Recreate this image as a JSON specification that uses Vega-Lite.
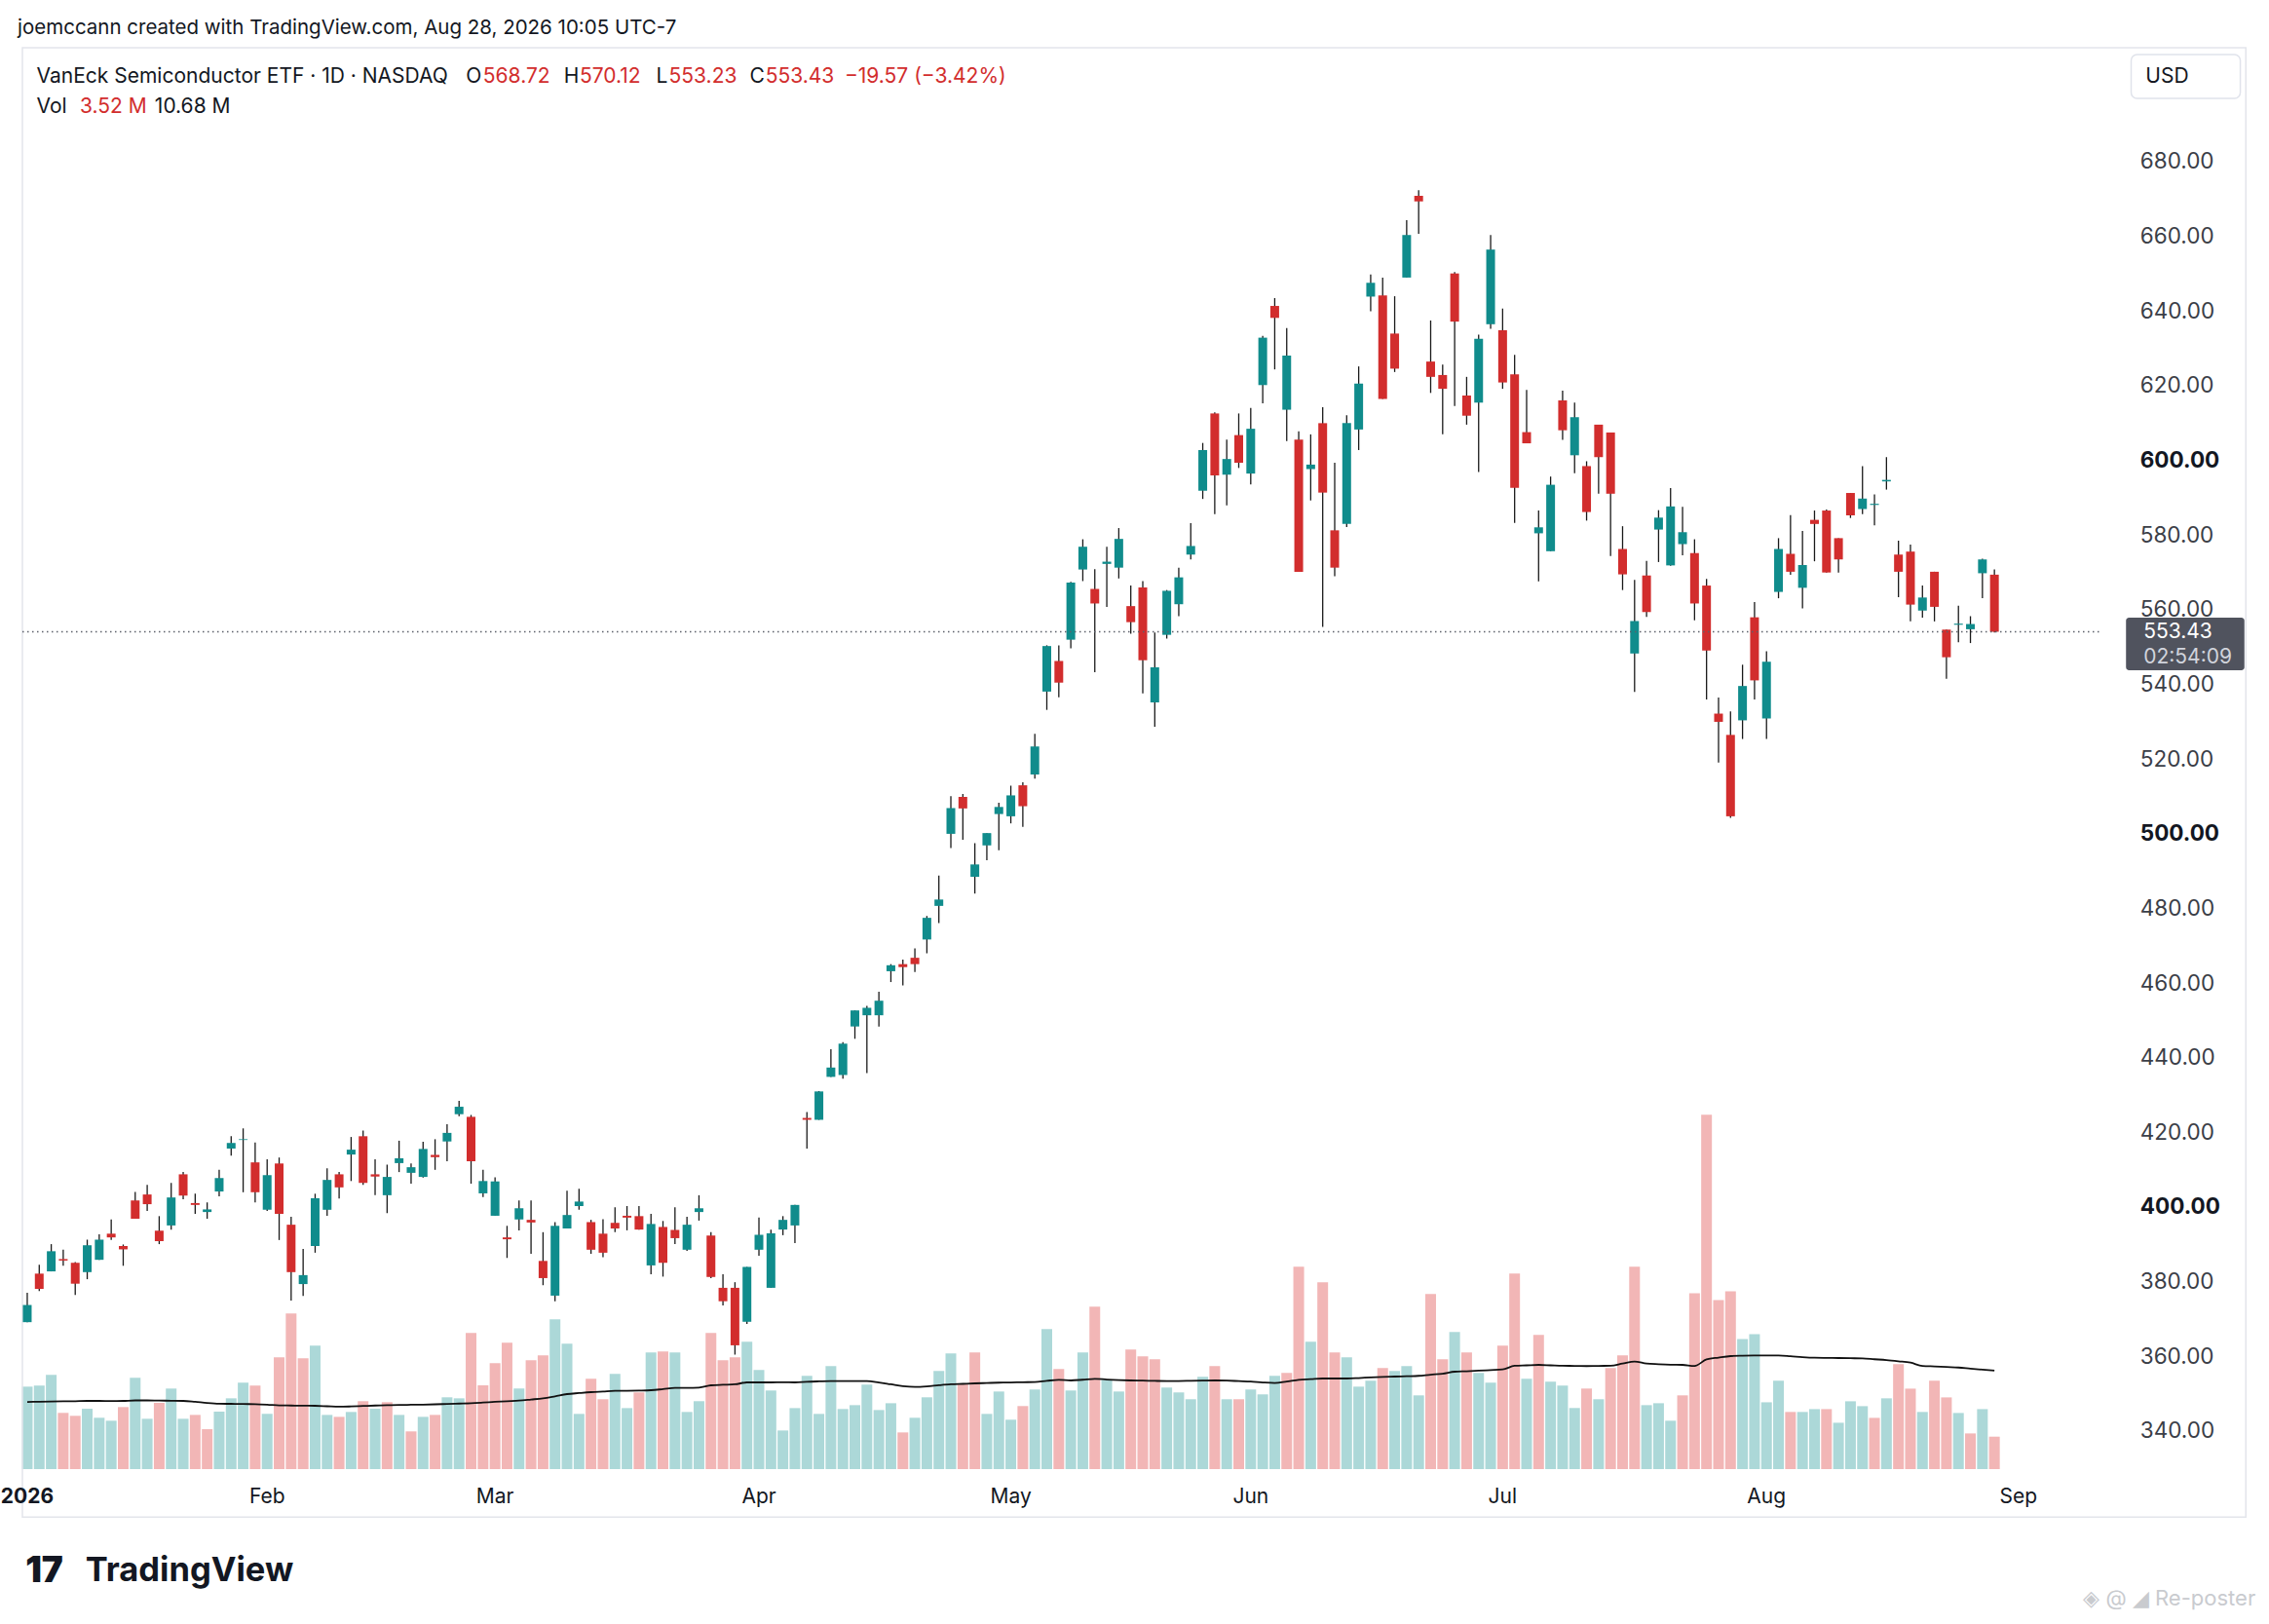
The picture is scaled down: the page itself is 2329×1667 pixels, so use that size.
{
  "$schema": "https://vega.github.io/schema/vega-lite/v6.json",
  "width": 2143,
  "height": 1459,
  "autosize": "none",
  "padding": {"left": 18, "top": 49, "right": 168, "bottom": 159},
  "background": "white",
  "config": {"font": "Inter", "view": {"stroke": null}},
  "title": {"text": "joemccann created with TradingView.com, Aug 28, 2026 10:05 UTC-7", "anchor": "start", "frame": "group", "offset": 9, "fontSize": 20.5, "fontWeight": "normal", "color": "#131722", "font": "Inter"},
  "data": {"values": [
    {"i":0,"open":368.5,"high":376.4,"low":368.5,"close":373.1,"vol":8.95,"ma":7.29},
    {"i":1,"open":381.5,"high":383.9,"low":376.8,"close":377.4,"vol":9.06,"ma":7.31},
    {"i":2,"open":382.1,"high":389.4,"low":382.1,"close":387.5,"vol":10.22,"ma":7.33},
    {"i":3,"open":385.4,"high":387.9,"low":383.6,"close":385.0,"vol":6.10,"ma":7.35},
    {"i":4,"open":384.4,"high":384.6,"low":375.8,"close":378.8,"vol":5.78,"ma":7.37},
    {"i":5,"open":381.9,"high":390.6,"low":380.0,"close":389.1,"vol":6.55,"ma":7.40},
    {"i":6,"open":385.2,"high":392.0,"low":385.2,"close":390.6,"vol":5.57,"ma":7.40},
    {"i":7,"open":392.2,"high":396.0,"low":390.5,"close":391.2,"vol":5.25,"ma":7.38},
    {"i":8,"open":388.9,"high":389.3,"low":383.6,"close":388.0,"vol":6.73,"ma":7.40},
    {"i":9,"open":401.1,"high":403.4,"low":396.2,"close":396.2,"vol":9.90,"ma":7.45},
    {"i":10,"open":402.7,"high":405.3,"low":398.3,"close":400.1,"vol":5.46,"ma":7.45},
    {"i":11,"open":393.0,"high":396.9,"low":389.4,"close":390.2,"vol":7.19,"ma":7.43},
    {"i":12,"open":394.4,"high":405.8,"low":393.3,"close":401.9,"vol":8.74,"ma":7.42},
    {"i":13,"open":408.1,"high":408.7,"low":401.4,"close":402.4,"vol":5.46,"ma":7.40},
    {"i":14,"open":400.4,"high":402.9,"low":397.5,"close":399.9,"vol":5.88,"ma":7.30},
    {"i":15,"open":398.0,"high":400.6,"low":396.2,"close":398.7,"vol":4.33,"ma":7.18},
    {"i":16,"open":403.5,"high":409.3,"low":402.2,"close":407.1,"vol":6.24,"ma":7.10},
    {"i":17,"open":415.0,"high":418.3,"low":413.1,"close":416.5,"vol":7.68,"ma":7.08},
    {"i":18,"open":417.3,"high":420.4,"low":403.3,"close":417.5,"vol":9.37,"ma":7.06},
    {"i":19,"open":411.3,"high":416.6,"low":400.6,"close":403.3,"vol":9.06,"ma":7.05},
    {"i":20,"open":398.6,"high":412.1,"low":398.3,"close":407.9,"vol":5.99,"ma":7.00},
    {"i":21,"open":411.0,"high":412.6,"low":390.5,"close":397.5,"vol":12.12,"ma":6.92},
    {"i":22,"open":394.6,"high":396.7,"low":374.3,"close":381.9,"vol":16.88,"ma":6.90},
    {"i":23,"open":378.7,"high":388.1,"low":375.5,"close":381.1,"vol":12.02,"ma":6.88},
    {"i":24,"open":388.9,"high":402.9,"low":387.1,"close":401.7,"vol":13.39,"ma":6.87},
    {"i":25,"open":398.6,"high":409.7,"low":397.0,"close":406.6,"vol":5.88,"ma":6.82},
    {"i":26,"open":408.1,"high":408.7,"low":401.6,"close":404.6,"vol":5.67,"ma":6.77},
    {"i":27,"open":413.4,"high":418.1,"low":406.3,"close":414.7,"vol":6.20,"ma":6.80},
    {"i":28,"open":418.3,"high":419.8,"low":405.3,"close":405.8,"vol":7.37,"ma":6.85},
    {"i":29,"open":408.1,"high":412.1,"low":402.5,"close":407.5,"vol":6.55,"ma":6.90},
    {"i":30,"open":402.5,"high":410.7,"low":397.7,"close":407.4,"vol":7.26,"ma":6.93},
    {"i":31,"open":411.1,"high":417.1,"low":408.7,"close":412.4,"vol":5.88,"ma":6.96},
    {"i":32,"open":408.5,"high":411.0,"low":405.6,"close":410.0,"vol":4.09,"ma":6.98},
    {"i":33,"open":407.4,"high":416.8,"low":407.2,"close":414.9,"vol":5.67,"ma":7.00},
    {"i":34,"open":413.3,"high":417.5,"low":409.3,"close":412.7,"vol":5.88,"ma":7.03},
    {"i":35,"open":416.9,"high":421.5,"low":411.6,"close":419.2,"vol":7.79,"ma":7.07},
    {"i":36,"open":424.2,"high":427.8,"low":423.7,"close":426.2,"vol":7.68,"ma":7.11},
    {"i":37,"open":423.5,"high":424.0,"low":405.6,"close":411.6,"vol":14.77,"ma":7.15},
    {"i":38,"open":403.0,"high":409.3,"low":402.0,"close":406.3,"vol":9.09,"ma":7.22},
    {"i":39,"open":397.0,"high":407.3,"low":397.0,"close":406.2,"vol":11.49,"ma":7.30},
    {"i":40,"open":391.2,"high":394.3,"low":385.7,"close":390.7,"vol":13.71,"ma":7.37},
    {"i":41,"open":396.0,"high":401.1,"low":393.1,"close":399.0,"vol":8.74,"ma":7.43},
    {"i":42,"open":395.9,"high":401.1,"low":386.8,"close":395.2,"vol":11.80,"ma":7.55},
    {"i":43,"open":384.9,"high":392.6,"low":378.4,"close":380.3,"vol":12.33,"ma":7.68},
    {"i":44,"open":375.6,"high":395.3,"low":374.1,"close":394.3,"vol":16.25,"ma":7.90},
    {"i":45,"open":393.6,"high":403.7,"low":393.6,"close":397.2,"vol":13.60,"ma":8.14},
    {"i":46,"open":399.6,"high":404.2,"low":398.6,"close":400.8,"vol":5.99,"ma":8.25},
    {"i":47,"open":395.3,"high":395.9,"low":386.8,"close":387.9,"vol":9.80,"ma":8.35},
    {"i":48,"open":392.2,"high":396.1,"low":385.9,"close":387.1,"vol":7.58,"ma":8.42},
    {"i":49,"open":395.1,"high":399.3,"low":392.6,"close":393.6,"vol":10.33,"ma":8.49},
    {"i":50,"open":397.0,"high":399.6,"low":393.1,"close":396.5,"vol":6.62,"ma":8.50},
    {"i":51,"open":396.9,"high":399.6,"low":393.3,"close":393.3,"vol":8.32,"ma":8.52},
    {"i":52,"open":383.7,"high":397.5,"low":381.3,"close":394.8,"vol":12.65,"ma":8.56},
    {"i":53,"open":394.0,"high":395.6,"low":380.7,"close":384.4,"vol":12.76,"ma":8.68},
    {"i":54,"open":393.2,"high":399.3,"low":389.4,"close":391.0,"vol":12.65,"ma":8.81},
    {"i":55,"open":387.9,"high":396.7,"low":387.6,"close":394.6,"vol":6.20,"ma":8.81},
    {"i":56,"open":398.0,"high":402.5,"low":395.7,"close":399.0,"vol":7.37,"ma":8.85},
    {"i":57,"open":391.7,"high":392.6,"low":380.3,"close":380.6,"vol":14.77,"ma":9.09},
    {"i":58,"open":377.7,"high":381.3,"low":373.0,"close":374.1,"vol":11.80,"ma":9.15},
    {"i":59,"open":377.7,"high":379.2,"low":359.8,"close":362.3,"vol":12.12,"ma":9.20},
    {"i":60,"open":368.6,"high":383.3,"low":368.0,"close":383.3,"vol":13.81,"ma":9.41},
    {"i":61,"open":387.9,"high":396.5,"low":386.3,"close":391.9,"vol":10.75,"ma":9.41},
    {"i":62,"open":377.7,"high":393.3,"low":377.7,"close":392.3,"vol":8.53,"ma":9.41},
    {"i":63,"open":393.3,"high":396.9,"low":391.8,"close":395.9,"vol":4.19,"ma":9.43},
    {"i":64,"open":394.4,"high":399.9,"low":389.7,"close":399.9,"vol":6.62,"ma":9.41},
    {"i":65,"open":423.2,"high":424.8,"low":415.0,"close":422.7,"vol":10.11,"ma":9.48},
    {"i":66,"open":422.7,"high":430.4,"low":422.7,"close":430.3,"vol":5.99,"ma":9.52},
    {"i":67,"open":434.2,"high":441.6,"low":434.2,"close":436.7,"vol":11.17,"ma":9.55},
    {"i":68,"open":434.7,"high":443.5,"low":433.7,"close":443.1,"vol":6.52,"ma":9.55},
    {"i":69,"open":447.7,"high":452.0,"low":444.4,"close":452.0,"vol":6.94,"ma":9.55},
    {"i":70,"open":450.7,"high":453.2,"low":435.2,"close":452.7,"vol":9.16,"ma":9.55},
    {"i":71,"open":450.7,"high":457.0,"low":447.7,"close":454.6,"vol":6.41,"ma":9.40},
    {"i":72,"open":462.5,"high":464.4,"low":459.6,"close":464.1,"vol":7.15,"ma":9.20},
    {"i":73,"open":464.4,"high":465.6,"low":458.7,"close":463.6,"vol":3.98,"ma":9.00},
    {"i":74,"open":466.1,"high":468.6,"low":462.3,"close":464.4,"vol":5.57,"ma":8.92},
    {"i":75,"open":471.0,"high":477.3,"low":467.3,"close":476.8,"vol":7.79,"ma":8.98},
    {"i":76,"open":480.0,"high":488.1,"low":475.4,"close":481.7,"vol":10.64,"ma":9.10},
    {"i":77,"open":499.3,"high":509.4,"low":495.5,"close":506.2,"vol":12.55,"ma":9.20},
    {"i":78,"open":509.2,"high":510.0,"low":497.7,"close":506.1,"vol":9.27,"ma":9.25},
    {"i":79,"open":487.8,"high":496.8,"low":483.3,"close":491.1,"vol":12.65,"ma":9.30},
    {"i":80,"open":496.2,"high":499.5,"low":492.2,"close":499.5,"vol":5.99,"ma":9.34},
    {"i":81,"open":504.6,"high":507.6,"low":494.9,"close":506.5,"vol":8.42,"ma":9.38},
    {"i":82,"open":504.0,"high":512.2,"low":502.1,"close":509.6,"vol":5.36,"ma":9.40},
    {"i":83,"open":512.3,"high":513.1,"low":501.2,"close":506.7,"vol":6.84,"ma":9.43},
    {"i":84,"open":515.2,"high":526.1,"low":514.1,"close":522.7,"vol":8.64,"ma":9.45},
    {"i":85,"open":537.4,"high":549.8,"low":532.5,"close":549.6,"vol":15.19,"ma":9.58},
    {"i":86,"open":545.6,"high":549.8,"low":535.9,"close":539.8,"vol":10.86,"ma":9.69},
    {"i":87,"open":551.3,"high":566.8,"low":549.0,"close":566.6,"vol":8.53,"ma":9.62},
    {"i":88,"open":570.1,"high":578.2,"low":567.0,"close":576.2,"vol":12.65,"ma":9.70},
    {"i":89,"open":564.9,"high":570.2,"low":542.6,"close":561.0,"vol":17.62,"ma":9.80},
    {"i":90,"open":571.6,"high":576.2,"low":560.1,"close":572.2,"vol":9.69,"ma":9.72},
    {"i":91,"open":570.6,"high":581.2,"low":567.7,"close":578.3,"vol":8.42,"ma":9.66},
    {"i":92,"open":560.3,"high":565.8,"low":552.9,"close":556.0,"vol":12.97,"ma":9.62},
    {"i":93,"open":565.3,"high":567.0,"low":536.9,"close":545.8,"vol":12.23,"ma":9.60},
    {"i":94,"open":534.5,"high":553.2,"low":528.0,"close":543.9,"vol":11.91,"ma":9.57},
    {"i":95,"open":552.6,"high":564.6,"low":551.6,"close":564.4,"vol":8.85,"ma":9.55},
    {"i":96,"open":560.8,"high":570.6,"low":557.6,"close":568.0,"vol":8.32,"ma":9.56},
    {"i":97,"open":574.1,"high":582.5,"low":572.8,"close":576.4,"vol":7.58,"ma":9.58},
    {"i":98,"open":591.2,"high":604.0,"low":589.0,"close":602.1,"vol":10.01,"ma":9.60},
    {"i":99,"open":611.9,"high":612.2,"low":584.9,"close":595.3,"vol":11.17,"ma":9.62},
    {"i":100,"open":595.5,"high":604.9,"low":587.3,"close":599.7,"vol":7.58,"ma":9.60},
    {"i":101,"open":606.1,"high":611.9,"low":597.3,"close":598.7,"vol":7.58,"ma":9.55},
    {"i":102,"open":595.8,"high":613.4,"low":592.9,"close":607.8,"vol":8.64,"ma":9.50},
    {"i":103,"open":619.5,"high":632.7,"low":614.6,"close":632.2,"vol":8.11,"ma":9.40},
    {"i":104,"open":640.7,"high":642.8,"low":623.7,"close":637.5,"vol":10.11,"ma":9.34},
    {"i":105,"open":612.9,"high":634.8,"low":604.5,"close":627.4,"vol":10.43,"ma":9.50},
    {"i":106,"open":604.9,"high":607.1,"low":569.5,"close":569.5,"vol":21.96,"ma":9.69},
    {"i":107,"open":597.0,"high":606.3,"low":588.6,"close":598.2,"vol":13.82,"ma":9.76},
    {"i":108,"open":609.3,"high":613.6,"low":554.7,"close":590.7,"vol":20.26,"ma":9.83},
    {"i":109,"open":580.6,"high":598.7,"low":568.3,"close":570.6,"vol":12.65,"ma":9.83},
    {"i":110,"open":582.3,"high":611.4,"low":581.5,"close":609.3,"vol":12.12,"ma":9.83},
    {"i":111,"open":607.6,"high":624.5,"low":602.1,"close":619.9,"vol":8.95,"ma":9.88},
    {"i":112,"open":643.2,"high":649.1,"low":639.3,"close":646.9,"vol":9.59,"ma":9.95},
    {"i":113,"open":643.5,"high":648.3,"low":615.8,"close":615.8,"vol":10.96,"ma":10.00},
    {"i":114,"open":633.3,"high":643.3,"low":623.0,"close":623.9,"vol":10.64,"ma":10.04},
    {"i":115,"open":648.3,"high":663.7,"low":648.3,"close":659.7,"vol":11.17,"ma":10.08},
    {"i":116,"open":670.2,"high":671.7,"low":660.0,"close":668.7,"vol":8.00,"ma":10.12},
    {"i":117,"open":625.8,"high":636.8,"low":617.4,"close":621.7,"vol":19.00,"ma":10.25},
    {"i":118,"open":622.2,"high":625.0,"low":606.3,"close":618.5,"vol":11.91,"ma":10.35},
    {"i":119,"open":649.4,"high":649.8,"low":613.9,"close":636.5,"vol":14.87,"ma":10.57},
    {"i":120,"open":616.7,"high":621.7,"low":608.9,"close":611.3,"vol":12.65,"ma":10.62},
    {"i":121,"open":614.8,"high":633.0,"low":596.2,"close":631.9,"vol":10.43,"ma":10.68},
    {"i":122,"open":635.8,"high":659.7,"low":634.6,"close":655.8,"vol":9.38,"ma":10.75},
    {"i":123,"open":634.2,"high":640.0,"low":618.5,"close":620.2,"vol":13.39,"ma":10.82},
    {"i":124,"open":622.4,"high":627.6,"low":582.6,"close":592.0,"vol":21.22,"ma":11.21},
    {"i":125,"open":606.9,"high":618.2,"low":603.9,"close":603.9,"vol":9.80,"ma":11.26},
    {"i":126,"open":579.8,"high":585.9,"low":566.9,"close":581.4,"vol":14.56,"ma":11.31},
    {"i":127,"open":575.0,"high":595.0,"low":575.0,"close":592.8,"vol":9.48,"ma":11.26},
    {"i":128,"open":615.4,"high":618.0,"low":604.8,"close":607.4,"vol":9.06,"ma":11.21},
    {"i":129,"open":600.7,"high":614.8,"low":595.9,"close":610.9,"vol":6.63,"ma":11.20},
    {"i":130,"open":597.8,"high":599.1,"low":583.2,"close":585.5,"vol":8.74,"ma":11.18},
    {"i":131,"open":608.9,"high":608.9,"low":590.4,"close":600.2,"vol":7.58,"ma":11.20},
    {"i":132,"open":606.8,"high":606.8,"low":573.7,"close":590.4,"vol":10.96,"ma":11.21},
    {"i":133,"open":575.6,"high":581.7,"low":564.6,"close":568.8,"vol":12.33,"ma":11.45},
    {"i":134,"open":547.6,"high":567.3,"low":537.3,"close":556.3,"vol":21.96,"ma":11.67},
    {"i":135,"open":568.5,"high":572.4,"low":557.4,"close":558.7,"vol":6.94,"ma":11.45},
    {"i":136,"open":580.8,"high":586.0,"low":572.1,"close":584.0,"vol":7.15,"ma":11.38},
    {"i":137,"open":571.2,"high":591.9,"low":571.1,"close":587.0,"vol":5.25,"ma":11.33},
    {"i":138,"open":576.9,"high":586.9,"low":573.9,"close":580.1,"vol":8.00,"ma":11.31},
    {"i":139,"open":574.5,"high":578.2,"low":556.5,"close":561.0,"vol":19.09,"ma":11.20},
    {"i":140,"open":565.8,"high":567.6,"low":535.3,"close":548.4,"vol":38.44,"ma":11.90},
    {"i":141,"open":531.5,"high":535.8,"low":518.4,"close":529.3,"vol":18.35,"ma":12.10},
    {"i":142,"open":525.8,"high":532.1,"low":503.6,"close":504.0,"vol":19.30,"ma":12.26},
    {"i":143,"open":529.7,"high":544.6,"low":524.7,"close":538.9,"vol":14.12,"ma":12.30},
    {"i":144,"open":557.3,"high":561.4,"low":535.3,"close":540.4,"vol":14.65,"ma":12.32},
    {"i":145,"open":530.2,"high":548.2,"low":524.7,"close":545.4,"vol":7.25,"ma":12.33},
    {"i":146,"open":564.1,"high":578.5,"low":562.4,"close":575.6,"vol":9.58,"ma":12.33},
    {"i":147,"open":574.3,"high":584.7,"low":568.7,"close":569.5,"vol":6.20,"ma":12.25},
    {"i":148,"open":565.2,"high":580.4,"low":559.7,"close":571.3,"vol":6.20,"ma":12.15},
    {"i":149,"open":583.4,"high":585.9,"low":572.3,"close":582.3,"vol":6.51,"ma":12.08},
    {"i":150,"open":585.9,"high":586.2,"low":569.3,"close":569.3,"vol":6.51,"ma":12.06},
    {"i":151,"open":578.5,"high":578.5,"low":569.3,"close":572.8,"vol":5.03,"ma":12.05},
    {"i":152,"open":590.6,"high":590.6,"low":583.9,"close":584.6,"vol":7.36,"ma":12.03},
    {"i":153,"open":586.3,"high":597.8,"low":584.9,"close":589.1,"vol":6.83,"ma":12.01},
    {"i":154,"open":587.4,"high":590.2,"low":581.9,"close":587.7,"vol":5.56,"ma":11.92},
    {"i":155,"open":593.7,"high":600.2,"low":591.5,"close":594.1,"vol":7.68,"ma":11.83},
    {"i":156,"open":574.1,"high":577.8,"low":562.7,"close":569.5,"vol":11.38,"ma":11.70},
    {"i":157,"open":574.9,"high":576.8,"low":556.2,"close":560.7,"vol":8.73,"ma":11.55},
    {"i":158,"open":559.1,"high":565.8,"low":557.2,"close":562.6,"vol":6.20,"ma":11.20},
    {"i":159,"open":569.5,"high":569.5,"low":556.2,"close":560.1,"vol":9.58,"ma":11.14},
    {"i":160,"open":554.0,"high":554.0,"low":540.8,"close":546.6,"vol":7.78,"ma":11.08},
    {"i":161,"open":555.3,"high":560.4,"low":550.6,"close":555.6,"vol":6.09,"ma":11.02},
    {"i":162,"open":554.1,"high":557.6,"low":550.4,"close":555.5,"vol":3.87,"ma":10.90},
    {"i":163,"open":569.1,"high":573.0,"low":562.4,"close":572.8,"vol":6.51,"ma":10.79},
    {"i":164,"open":568.72,"high":570.12,"low":553.23,"close":553.43,"vol":3.52,"ma":10.68}
  ]},
  "transform": [
    {"window": [{"op": "lag", "field": "close", "as": "prev"}], "sort": [{"field": "i", "order": "ascending"}]}
  ],
  "resolve": {"scale": {"y": "independent"}},
  "layer": [
    {
      "layer": [
        {
          "mark": {"type": "bar", "width": 11},
          "encoding": {
            "x": {"field": "i", "type": "quantitative", "scale": {"domain": [-0.404, 172.84], "nice": false, "zero": false}, "axis": null},
            "y": {"field": "vol", "type": "quantitative", "scale": {"domain": [0, 154.23], "nice": false, "zero": false}, "axis": null},
            "color": {"condition": {"test": "datum.prev == null || datum.close >= datum.prev", "value": "#acd8d8"}, "value": "#f2b6b6"}
          }
        },
        {
          "mark": {"type": "line", "color": "#111111", "strokeWidth": 1.8, "interpolate": "monotone"},
          "encoding": {
            "x": {"field": "i", "type": "quantitative", "scale": {"domain": [-0.404, 172.84], "nice": false, "zero": false}, "axis": null},
            "y": {"field": "ma", "type": "quantitative", "scale": {"domain": [0, 154.23], "nice": false, "zero": false}, "axis": null}
          }
        }
      ]
    },
    {
      "layer": [
        {
          "data": {"values": [{}]},
          "mark": {"type": "rect", "fill": null, "stroke": "#e3e5eb", "strokeWidth": 1.5},
          "encoding": {
            "x": {"datum": -0.404, "type": "quantitative", "scale": {"domain": [-0.404, 172.84], "nice": false, "zero": false}, "axis": null},
            "x2": {"datum": 184.96},
            "y": {"datum": 709.86, "type": "quantitative", "scale": {"domain": [329.14, 709.86], "nice": false, "zero": false}, "axis": null},
            "y2": {"datum": 316.28}
          }
        },
        {
          "mark": {"type": "rule", "color": "#1a1a1a", "strokeWidth": 1.3},
          "encoding": {
            "x": {"field": "i", "type": "quantitative", "scale": {"domain": [-0.404, 172.84], "nice": false, "zero": false}, "axis": null},
            "y": {"field": "low", "type": "quantitative", "scale": {"domain": [329.14, 709.86], "nice": false, "zero": false}, "axis": null},
            "y2": {"field": "high"}
          }
        },
        {
          "mark": {"type": "bar", "width": 9},
          "encoding": {
            "x": {"field": "i", "type": "quantitative", "scale": {"domain": [-0.404, 172.84], "nice": false, "zero": false}, "axis": null},
            "y": {"field": "open", "type": "quantitative", "scale": {"domain": [329.14, 709.86], "nice": false, "zero": false}, "axis": null},
            "y2": {"field": "close"},
            "color": {"condition": {"test": "datum.close >= datum.open", "value": "#108c8c"}, "value": "#d22d2d"}
          }
        },
        {
          "data": {"values": [{"price": 340}, {"price": 360}, {"price": 380}, {"price": 420}, {"price": 440}, {"price": 460}, {"price": 480}, {"price": 520}, {"price": 540}, {"price": 560}, {"price": 580}, {"price": 620}, {"price": 640}, {"price": 660}, {"price": 680}]},
          "mark": {"type": "text", "align": "left", "baseline": "middle", "dy": 3, "fontSize": 22.5, "color": "#3b3e47"},
          "encoding": {
            "x": {"datum": 176.15, "type": "quantitative", "scale": {"domain": [-0.404, 172.84], "nice": false, "zero": false}, "axis": null},
            "y": {"field": "price", "type": "quantitative", "scale": {"domain": [329.14, 709.86], "nice": false, "zero": false}, "axis": null},
            "text": {"field": "price", "type": "quantitative", "format": ".2f"}
          }
        },
        {
          "data": {"values": [{"price": 400}, {"price": 500}, {"price": 600}]},
          "mark": {"type": "text", "align": "left", "baseline": "middle", "dy": 3, "fontSize": 22.5, "fontWeight": "bold", "color": "#131722"},
          "encoding": {
            "x": {"datum": 176.15, "type": "quantitative", "scale": {"domain": [-0.404, 172.84], "nice": false, "zero": false}, "axis": null},
            "y": {"field": "price", "type": "quantitative", "scale": {"domain": [329.14, 709.86], "nice": false, "zero": false}, "axis": null},
            "text": {"field": "price", "type": "quantitative", "format": ".2f"}
          }
        },
        {
          "data": {"values": [{"i": 20, "month": "Feb"}, {"i": 39, "month": "Mar"}, {"i": 61, "month": "Apr"}, {"i": 82, "month": "May"}, {"i": 102, "month": "Jun"}, {"i": 123, "month": "Jul"}, {"i": 145, "month": "Aug"}, {"i": 166, "month": "Sep"}]},
          "mark": {"type": "text", "align": "center", "baseline": "middle", "dy": 3, "fontSize": 21, "color": "#131722"},
          "encoding": {
            "x": {"field": "i", "type": "quantitative", "scale": {"domain": [-0.404, 172.84], "nice": false, "zero": false}, "axis": null},
            "y": {"datum": 322.28, "type": "quantitative", "scale": {"domain": [329.14, 709.86], "nice": false, "zero": false}, "axis": null},
            "text": {"field": "month", "type": "nominal"}
          }
        },
        {
          "data": {"values": [{"i": 0, "month": "2026"}]},
          "mark": {"type": "text", "align": "center", "baseline": "middle", "dy": 3, "fontSize": 21, "fontWeight": "bold", "color": "#131722"},
          "encoding": {
            "x": {"field": "i", "type": "quantitative", "scale": {"domain": [-0.404, 172.84], "nice": false, "zero": false}, "axis": null},
            "y": {"datum": 322.28, "type": "quantitative", "scale": {"domain": [329.14, 709.86], "nice": false, "zero": false}, "axis": null},
            "text": {"field": "month", "type": "nominal"}
          }
        },
        {
          "transform": [{"filter": "datum.i == 164"}],
          "mark": {"type": "rule", "color": "#5d606b", "strokeDash": [1.5, 3.5], "strokeWidth": 1.5},
          "encoding": {
            "x": {"datum": -0.404, "type": "quantitative", "scale": {"domain": [-0.404, 172.84], "nice": false, "zero": false}, "axis": null},
            "x2": {"datum": 172.84},
            "y": {"field": "close", "type": "quantitative", "scale": {"domain": [329.14, 709.86], "nice": false, "zero": false}, "axis": null}
          }
        },
        {
          "data": {"values": [{}]},
          "mark": {"type": "rect", "color": "#50535e", "cornerRadius": 3},
          "encoding": {
            "x": {"datum": 174.97, "type": "quantitative", "scale": {"domain": [-0.404, 172.84], "nice": false, "zero": false}, "axis": null},
            "x2": {"datum": 184.84},
            "y": {"datum": 557.18, "type": "quantitative", "scale": {"domain": [329.14, 709.86], "nice": false, "zero": false}, "axis": null},
            "y2": {"datum": 543.1}
          }
        },
        {
          "transform": [{"filter": "datum.i == 164"}],
          "mark": {"type": "text", "align": "left", "baseline": "middle", "dy": 1, "fontSize": 21, "color": "#ffffff"},
          "encoding": {
            "x": {"datum": 176.43, "type": "quantitative", "scale": {"domain": [-0.404, 172.84], "nice": false, "zero": false}, "axis": null},
            "y": {"field": "close", "type": "quantitative", "scale": {"domain": [329.14, 709.86], "nice": false, "zero": false}, "axis": null},
            "text": {"field": "close", "type": "quantitative", "format": ".2f"}
          }
        },
        {
          "data": {"values": [{}]},
          "mark": {"type": "text", "text": "02:54:09", "align": "left", "baseline": "middle", "dy": 1, "fontSize": 21, "color": "#d1d4dc"},
          "encoding": {
            "x": {"datum": 176.43, "type": "quantitative", "scale": {"domain": [-0.404, 172.84], "nice": false, "zero": false}, "axis": null},
            "y": {"datum": 546.74, "type": "quantitative", "scale": {"domain": [329.14, 709.86], "nice": false, "zero": false}, "axis": null}
          }
        },
        {
          "data": {"values": [{}]},
          "mark": {"type": "rect", "fill": "#ffffff", "stroke": "#e0e3eb", "strokeWidth": 1.5, "cornerRadius": 6},
          "encoding": {
            "x": {"datum": 175.4, "type": "quantitative", "scale": {"domain": [-0.404, 172.84], "nice": false, "zero": false}, "axis": null},
            "x2": {"datum": 184.5},
            "y": {"datum": 708.03, "type": "quantitative", "scale": {"domain": [329.14, 709.86], "nice": false, "zero": false}, "axis": null},
            "y2": {"datum": 696.29}
          }
        },
        {
          "data": {"values": [{}]},
          "mark": {"type": "text", "text": "USD", "align": "left", "baseline": "middle", "dy": 2, "fontSize": 21, "color": "#131722"},
          "encoding": {
            "x": {"datum": 176.6, "type": "quantitative", "scale": {"domain": [-0.404, 172.84], "nice": false, "zero": false}, "axis": null},
            "y": {"datum": 702.55, "type": "quantitative", "scale": {"domain": [329.14, 709.86], "nice": false, "zero": false}, "axis": null}
          }
        },
        {
          "data": {"values": [{}]},
          "mark": {"type": "text", "text": "VanEck Semiconductor ETF · 1D · NASDAQ", "align": "left", "baseline": "middle", "dy": 2, "fontSize": 21, "color": "#131722"},
          "encoding": {
            "x": {"datum": 0.78, "type": "quantitative", "scale": {"domain": [-0.404, 172.84], "nice": false, "zero": false}, "axis": null},
            "y": {"datum": 702.55, "type": "quantitative", "scale": {"domain": [329.14, 709.86], "nice": false, "zero": false}, "axis": null}
          }
        },
        {
          "data": {"values": [{}]},
          "mark": {"type": "text", "text": "O", "align": "left", "baseline": "middle", "dy": 2, "fontSize": 21, "color": "#131722"},
          "encoding": {
            "x": {"datum": 36.57, "type": "quantitative", "scale": {"domain": [-0.404, 172.84], "nice": false, "zero": false}, "axis": null},
            "y": {"datum": 702.55, "type": "quantitative", "scale": {"domain": [329.14, 709.86], "nice": false, "zero": false}, "axis": null}
          }
        },
        {
          "data": {"values": [{}]},
          "mark": {"type": "text", "text": "568.72", "align": "left", "baseline": "middle", "dy": 2, "fontSize": 21, "color": "#d22d2d"},
          "encoding": {
            "x": {"datum": 38.0, "type": "quantitative", "scale": {"domain": [-0.404, 172.84], "nice": false, "zero": false}, "axis": null},
            "y": {"datum": 702.55, "type": "quantitative", "scale": {"domain": [329.14, 709.86], "nice": false, "zero": false}, "axis": null}
          }
        },
        {
          "data": {"values": [{}]},
          "mark": {"type": "text", "text": "H", "align": "left", "baseline": "middle", "dy": 2, "fontSize": 21, "color": "#131722"},
          "encoding": {
            "x": {"datum": 44.73, "type": "quantitative", "scale": {"domain": [-0.404, 172.84], "nice": false, "zero": false}, "axis": null},
            "y": {"datum": 702.55, "type": "quantitative", "scale": {"domain": [329.14, 709.86], "nice": false, "zero": false}, "axis": null}
          }
        },
        {
          "data": {"values": [{}]},
          "mark": {"type": "text", "text": "570.12", "align": "left", "baseline": "middle", "dy": 2, "fontSize": 21, "color": "#d22d2d"},
          "encoding": {
            "x": {"datum": 46.05, "type": "quantitative", "scale": {"domain": [-0.404, 172.84], "nice": false, "zero": false}, "axis": null},
            "y": {"datum": 702.55, "type": "quantitative", "scale": {"domain": [329.14, 709.86], "nice": false, "zero": false}, "axis": null}
          }
        },
        {
          "data": {"values": [{}]},
          "mark": {"type": "text", "text": "L", "align": "left", "baseline": "middle", "dy": 2, "fontSize": 21, "color": "#131722"},
          "encoding": {
            "x": {"datum": 52.42, "type": "quantitative", "scale": {"domain": [-0.404, 172.84], "nice": false, "zero": false}, "axis": null},
            "y": {"datum": 702.55, "type": "quantitative", "scale": {"domain": [329.14, 709.86], "nice": false, "zero": false}, "axis": null}
          }
        },
        {
          "data": {"values": [{}]},
          "mark": {"type": "text", "text": "553.23", "align": "left", "baseline": "middle", "dy": 2, "fontSize": 21, "color": "#d22d2d"},
          "encoding": {
            "x": {"datum": 53.49, "type": "quantitative", "scale": {"domain": [-0.404, 172.84], "nice": false, "zero": false}, "axis": null},
            "y": {"datum": 702.55, "type": "quantitative", "scale": {"domain": [329.14, 709.86], "nice": false, "zero": false}, "axis": null}
          }
        },
        {
          "data": {"values": [{}]},
          "mark": {"type": "text", "text": "C", "align": "left", "baseline": "middle", "dy": 2, "fontSize": 21, "color": "#131722"},
          "encoding": {
            "x": {"datum": 60.22, "type": "quantitative", "scale": {"domain": [-0.404, 172.84], "nice": false, "zero": false}, "axis": null},
            "y": {"datum": 702.55, "type": "quantitative", "scale": {"domain": [329.14, 709.86], "nice": false, "zero": false}, "axis": null}
          }
        },
        {
          "data": {"values": [{}]},
          "mark": {"type": "text", "text": "553.43", "align": "left", "baseline": "middle", "dy": 2, "fontSize": 21, "color": "#d22d2d"},
          "encoding": {
            "x": {"datum": 61.54, "type": "quantitative", "scale": {"domain": [-0.404, 172.84], "nice": false, "zero": false}, "axis": null},
            "y": {"datum": 702.55, "type": "quantitative", "scale": {"domain": [329.14, 709.86], "nice": false, "zero": false}, "axis": null}
          }
        },
        {
          "data": {"values": [{}]},
          "mark": {"type": "text", "text": "−19.57 (−3.42%)", "align": "left", "baseline": "middle", "dy": 2, "fontSize": 21, "color": "#d22d2d"},
          "encoding": {
            "x": {"datum": 68.14, "type": "quantitative", "scale": {"domain": [-0.404, 172.84], "nice": false, "zero": false}, "axis": null},
            "y": {"datum": 702.55, "type": "quantitative", "scale": {"domain": [329.14, 709.86], "nice": false, "zero": false}, "axis": null}
          }
        },
        {
          "data": {"values": [{}]},
          "mark": {"type": "text", "text": "Vol", "align": "left", "baseline": "middle", "dy": 2, "fontSize": 21, "color": "#131722"},
          "encoding": {
            "x": {"datum": 0.78, "type": "quantitative", "scale": {"domain": [-0.404, 172.84], "nice": false, "zero": false}, "axis": null},
            "y": {"datum": 694.46, "type": "quantitative", "scale": {"domain": [329.14, 709.86], "nice": false, "zero": false}, "axis": null}
          }
        },
        {
          "data": {"values": [{}]},
          "mark": {"type": "text", "text": "3.52 M", "align": "left", "baseline": "middle", "dy": 2, "fontSize": 21, "color": "#d22d2d"},
          "encoding": {
            "x": {"datum": 4.38, "type": "quantitative", "scale": {"domain": [-0.404, 172.84], "nice": false, "zero": false}, "axis": null},
            "y": {"datum": 694.46, "type": "quantitative", "scale": {"domain": [329.14, 709.86], "nice": false, "zero": false}, "axis": null}
          }
        },
        {
          "data": {"values": [{}]},
          "mark": {"type": "text", "text": "10.68 M", "align": "left", "baseline": "middle", "dy": 2, "fontSize": 21, "color": "#131722"},
          "encoding": {
            "x": {"datum": 10.63, "type": "quantitative", "scale": {"domain": [-0.404, 172.84], "nice": false, "zero": false}, "axis": null},
            "y": {"datum": 694.46, "type": "quantitative", "scale": {"domain": [329.14, 709.86], "nice": false, "zero": false}, "axis": null}
          }
        },
        {
          "data": {"values": [{}]},
          "mark": {"type": "text", "text": "17", "align": "left", "baseline": "middle", "fontSize": 37, "fontWeight": 900, "color": "#131722"},
          "encoding": {
            "x": {"datum": -0.15, "type": "quantitative", "scale": {"domain": [-0.404, 172.84], "nice": false, "zero": false}, "axis": null},
            "y": {"datum": 301.66, "type": "quantitative", "scale": {"domain": [329.14, 709.86], "nice": false, "zero": false}, "axis": null}
          }
        },
        {
          "data": {"values": [{}]},
          "mark": {"type": "text", "text": "TradingView", "align": "left", "baseline": "middle", "fontSize": 34.5, "fontWeight": "bold", "color": "#131722"},
          "encoding": {
            "x": {"datum": 4.85, "type": "quantitative", "scale": {"domain": [-0.404, 172.84], "nice": false, "zero": false}, "axis": null},
            "y": {"datum": 301.66, "type": "quantitative", "scale": {"domain": [329.14, 709.86], "nice": false, "zero": false}, "axis": null}
          }
        },
        {
          "data": {"values": [{}]},
          "mark": {"type": "text", "text": "◈ @ ◢ Re-poster", "align": "right", "baseline": "middle", "fontSize": 22, "color": "#c9cbcf"},
          "encoding": {
            "x": {"datum": 185.77, "type": "quantitative", "scale": {"domain": [-0.404, 172.84], "nice": false, "zero": false}, "axis": null},
            "y": {"datum": 294.35, "type": "quantitative", "scale": {"domain": [329.14, 709.86], "nice": false, "zero": false}, "axis": null}
          }
        }
      ]
    }
  ]
}
